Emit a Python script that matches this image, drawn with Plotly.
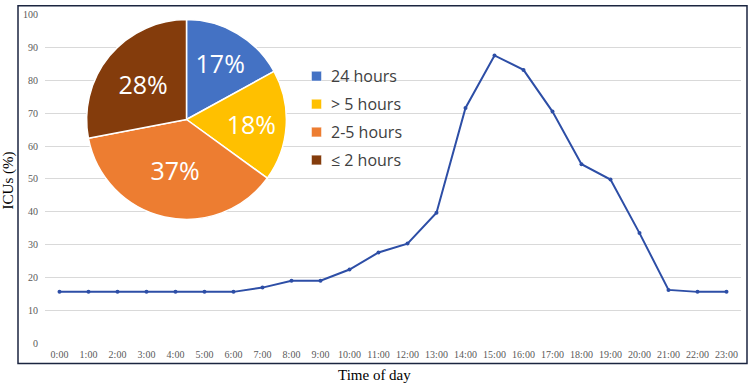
import plotly.graph_objects as go

W, H = 750, 390

hours = [f"{h}:00" for h in range(24)]
icu_pct = [15.6, 15.6, 15.6, 15.6, 15.6, 15.6, 15.6, 16.9, 19.0, 19.0, 22.4, 27.6,
           30.3, 39.7, 71.6, 87.6, 83.2, 70.5, 54.5, 49.8, 33.5, 16.2, 15.6, 15.6]

pie_labels = ["24 hours", "> 5 hours", "2-5 hours", "≤ 2 hours"]
pie_values = [17, 18, 37, 28]
pie_colors = ["#4472C4", "#FFC000", "#ED7D31", "#843C0C"]

y_ticks = list(range(0, 101, 10))

SERIF = "Liberation Serif, Times New Roman, serif"
SANS = "Open Sans, Lato, sans-serif"


def px_x(x):
    return x / W


def px_y(y):
    return 1 - y / H


fig = go.Figure()

fig.add_trace(go.Scatter(
    x=hours, y=icu_pct, mode="lines+markers",
    line=dict(color="#2D4EA6", width=2),
    marker=dict(size=4, color="#2D4EA6"),
    showlegend=False, hoverinfo="x+y",
))

fig.add_trace(go.Pie(
    labels=pie_labels, values=pie_values, sort=False, direction="clockwise",
    rotation=0,
    marker=dict(colors=pie_colors, line=dict(color="white", width=1.5)),
    texttemplate="%{value}%", textinfo="text", textposition="inside",
    insidetextorientation="horizontal",
    textfont=dict(family=SANS, size=25, color="white"),
    domain=dict(x=[px_x(84), px_x(289)], y=[px_y(220), px_y(15)]),
    showlegend=False,
))

fig.update_layout(
    width=W, height=H,
    margin=dict(l=0, r=0, t=0, b=0),
    paper_bgcolor="white", plot_bgcolor="white",
    xaxis=dict(
        domain=[px_x(45), px_x(741)], type="category",
        range=[-0.5, 23.5], showgrid=False, zeroline=False, showline=False,
        ticks="", tickfont=dict(family=SERIF, size=10, color="#595959"),
        ticklabelstandoff=4,
    ),
    yaxis=dict(
        domain=[px_y(347), px_y(10)], range=[0, 100],
        tickvals=y_ticks, showgrid=True, gridcolor="#D9D9D9", gridwidth=1,
        zeroline=False, showline=False, ticks="",
        tickfont=dict(family=SERIF, size=10, color="#595959"),
        ticklabelstandoff=6,
    ),
    showlegend=False,
)

# outer border
fig.add_shape(type="rect", xref="paper", yref="paper",
              x0=px_x(18), x1=px_x(747), y0=px_y(368), y1=px_y(0.7),
              line=dict(color="#1B2540", width=1.5), fillcolor="rgba(0,0,0,0)", layer="above")

# axis titles
fig.add_annotation(text="ICUs (%)", xref="paper", yref="paper", x=px_x(8), y=px_y(180),
                   xanchor="center", yanchor="middle", textangle=-90, showarrow=False,
                   font=dict(family=SERIF, size=15, color="black"))
fig.add_annotation(text="Time of day", xref="paper", yref="paper", x=px_x(374), y=px_y(380),
                   xanchor="center", yanchor="middle", showarrow=False,
                   font=dict(family=SERIF, size=15, color="black"))

# legend for pie
for i, (lab, col) in enumerate(zip(pie_labels, pie_colors)):
    yc = 73 + i * 28.7
    fig.add_shape(type="rect", xref="paper", yref="paper",
                  x0=px_x(311.5), x1=px_x(321.5), y0=px_y(yc + 5), y1=px_y(yc - 5),
                  fillcolor=col, line=dict(color="white", width=0.5))
    fig.add_annotation(text=lab, xref="paper", yref="paper", x=px_x(329), y=px_y(yc),
                       xanchor="left", yanchor="middle", showarrow=False,
                       font=dict(family=SANS, size=16, color="#404040"))

fig.write_html(
    "out.html",
    config={"displayModeBar": False},
    post_script="document.body.style.margin='0';document.body.style.overflow='hidden';",
)
